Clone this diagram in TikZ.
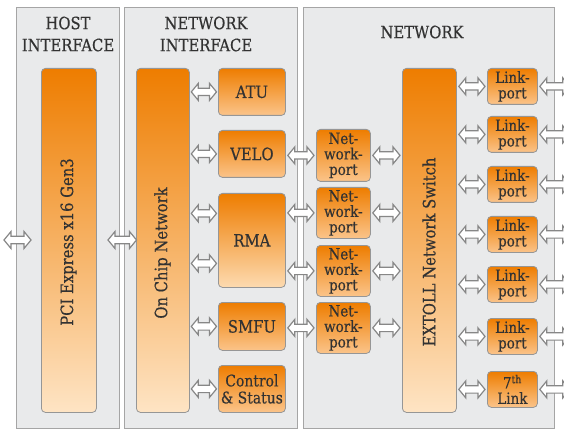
\documentclass[tikz,border=0pt]{standalone}
\usepackage{fontspec}
\setmainfont{DejaVu Serif}[FakeStretch=0.87,FakeBold=0.4]
\usetikzlibrary{calc}
\definecolor{panelfill}{RGB}{233,234,235}
\definecolor{panelline}{RGB}{165,165,165}
\definecolor{ortop}{RGB}{238,125,0}
\definecolor{orbotbig}{RGB}{254,228,196}
\definecolor{orbotmid}{RGB}{253,218,176}
\definecolor{orbotsmall}{RGB}{251,196,138}
\definecolor{boxline}{RGB}{150,150,150}
\definecolor{txt}{RGB}{50,50,50}
\definecolor{arrline}{RGB}{135,135,135}
\tikzset{
 panel/.style={draw=panelline, fill=panelfill, line width=1pt},
 obox/.style={draw=boxline, line width=0.8pt, rounded corners=4pt, top color=ortop, bottom color=orbotsmall, anchor=north west, inner sep=0pt, text=txt, align=center, font=\fontsize{17}{15}\selectfont},
 bigbox/.style={obox, bottom color=orbotbig},
 smalltxt/.style={font=\fontsize{15.5}{15.5}\selectfont},
 lbl/.style={text=txt, font=\fontsize{17}{22}\selectfont, align=center, inner sep=0pt},
 hollow/.style={draw=arrline, fill=white, line width=1.2pt, line join=miter,
   to path={let \p1=(\tikztostart), \p2=(\tikztotarget) in
     (\x1,\y1) -- (\x1+7pt,\y1+8.5pt) -- (\x1+7pt,\y1+3.7pt) -- (\x2-7pt,\y1+3.7pt) -- (\x2-7pt,\y1+8.5pt) -- (\x2,\y1) -- (\x2-7pt,\y1-8.5pt) -- (\x2-7pt,\y1-3.7pt) -- (\x1+7pt,\y1-3.7pt) -- (\x1+7pt,\y1-8.5pt) -- cycle}},
}
\begin{document}
\begin{tikzpicture}[x=1pt,y=-1pt]
\useasboundingbox (0,0) rectangle (564,430);
\clip (0,0) rectangle (564,430);
% panels
\node[panel, anchor=north west, minimum width=103pt, minimum height=421pt, inner sep=0pt] (host) at (16,7) {};
\node[panel, anchor=north west, minimum width=173pt, minimum height=421pt, inner sep=0pt] (ni) at (124,7) {};
\node[panel, anchor=north west, minimum width=251pt, minimum height=421pt, inner sep=0pt] (net) at (303,7) {};
\node[lbl] (hosth) at (68,34) {HOST\\INTERFACE};
\node[lbl] (nih) at (206,34) {NETWORK\\INTERFACE};
\node[lbl] (neth) at (422,32) {NETWORK};
% boxes
\node[bigbox, minimum width=55pt, minimum height=344pt] (pci) at (41,68) {};
\node[bigbox, minimum width=53pt, minimum height=344pt] (ocn) at (136,68) {};
\node[bigbox, minimum width=54pt, minimum height=344pt] (sw) at (402,68) {};
\node[lbl, rotate=90] (pcit) at (68.5,242) {PCI Express x16 Gen3};
\node[lbl, rotate=90] (ocnt) at (162.5,253) {On Chip Network};
\node[lbl, rotate=90] (swt) at (429,252) {EXTOLL Network Switch};
\node[obox, minimum width=67pt, minimum height=47pt] (atu) at (218,68) {ATU};
\node[obox, minimum width=67pt, minimum height=47pt] (velo) at (218,130) {VELO};
\node[obox, minimum width=67pt, minimum height=94pt, bottom color=orbotmid] (rma) at (218,193) {RMA};
\node[obox, minimum width=67pt, minimum height=48pt] (smfu) at (218,302) {SMFU};
\node[obox, minimum width=67pt, minimum height=47pt, font=\fontsize{16}{17}\selectfont] (ctrl) at (218,365) {Control\\\& Status};
\node[obox, smalltxt, minimum width=54pt, minimum height=52pt] (np1) at (316,129) {Net-\\work-\\port};
\node[obox, smalltxt, minimum width=54pt, minimum height=51pt] (np2) at (316,187) {Net-\\work-\\port};
\node[obox, smalltxt, minimum width=54pt, minimum height=51pt] (np3) at (316,245) {Net-\\work-\\port};
\node[obox, smalltxt, minimum width=54pt, minimum height=51pt] (np4) at (316,302) {Net-\\work-\\port};
\foreach \i/\y in {1/68,2/116,3/166,4/216,5/266,6/318}{
  \node[obox, smalltxt, minimum width=50pt, minimum height=36pt] (lp\i) at (487,\y) {Link-\\port};
}
\node[obox, smalltxt, minimum width=50pt, minimum height=36pt] (lp7) at (487,371) {7\textsuperscript{th}\\Link};
% arrows
\coordinate (pcinA) at (4,240);
\coordinate (pcinB) at (31,240);
\draw[hollow] (pcinA) to (pcinB);
\coordinate (hostedge) at (108,240);
\draw[hollow] (hostedge) to ([xshift=0.5pt]ocn.west |- hostedge);
\foreach \b in {atu,velo,smfu,ctrl}{
  \draw[hollow] ([xshift=1.5pt]ocn.east |- \b.west) to ([xshift=-1.5pt]\b.west);
}
\draw[hollow] ([xshift=1.5pt,yshift=27pt]ocn.east |- rma.west) to ([xshift=-1.5pt,yshift=27pt]rma.west);
\draw[hollow] ([xshift=1.5pt,yshift=-23pt]ocn.east |- rma.west) to ([xshift=-1.5pt,yshift=-23pt]rma.west);
\draw[hollow] ([xshift=2pt]velo.east |- np1.west) to ([xshift=-2pt]np1.west);
\draw[hollow] ([xshift=2pt]rma.east |- np2.west) to ([xshift=-2pt]np2.west);
\draw[hollow] ([xshift=2pt]rma.east |- np3.west) to ([xshift=-2pt]np3.west);
\draw[hollow] ([xshift=2pt]smfu.east |- np4.west) to ([xshift=-2pt]np4.west);
\foreach \i in {1,2,3,4}{
  \draw[hollow] ([xshift=2pt]np\i.east) to ([xshift=-2pt]sw.west |- np\i.east);
}
\foreach \i in {1,...,7}{
  \draw[hollow] ([xshift=2pt]sw.east |- lp\i.west) to ([xshift=-2pt]lp\i.west);
  \coordinate (out\i) at ([xshift=32pt]lp\i.east);
  \draw[hollow] ([xshift=2pt]lp\i.east) to (out\i);
}
\end{tikzpicture}
\end{document}
